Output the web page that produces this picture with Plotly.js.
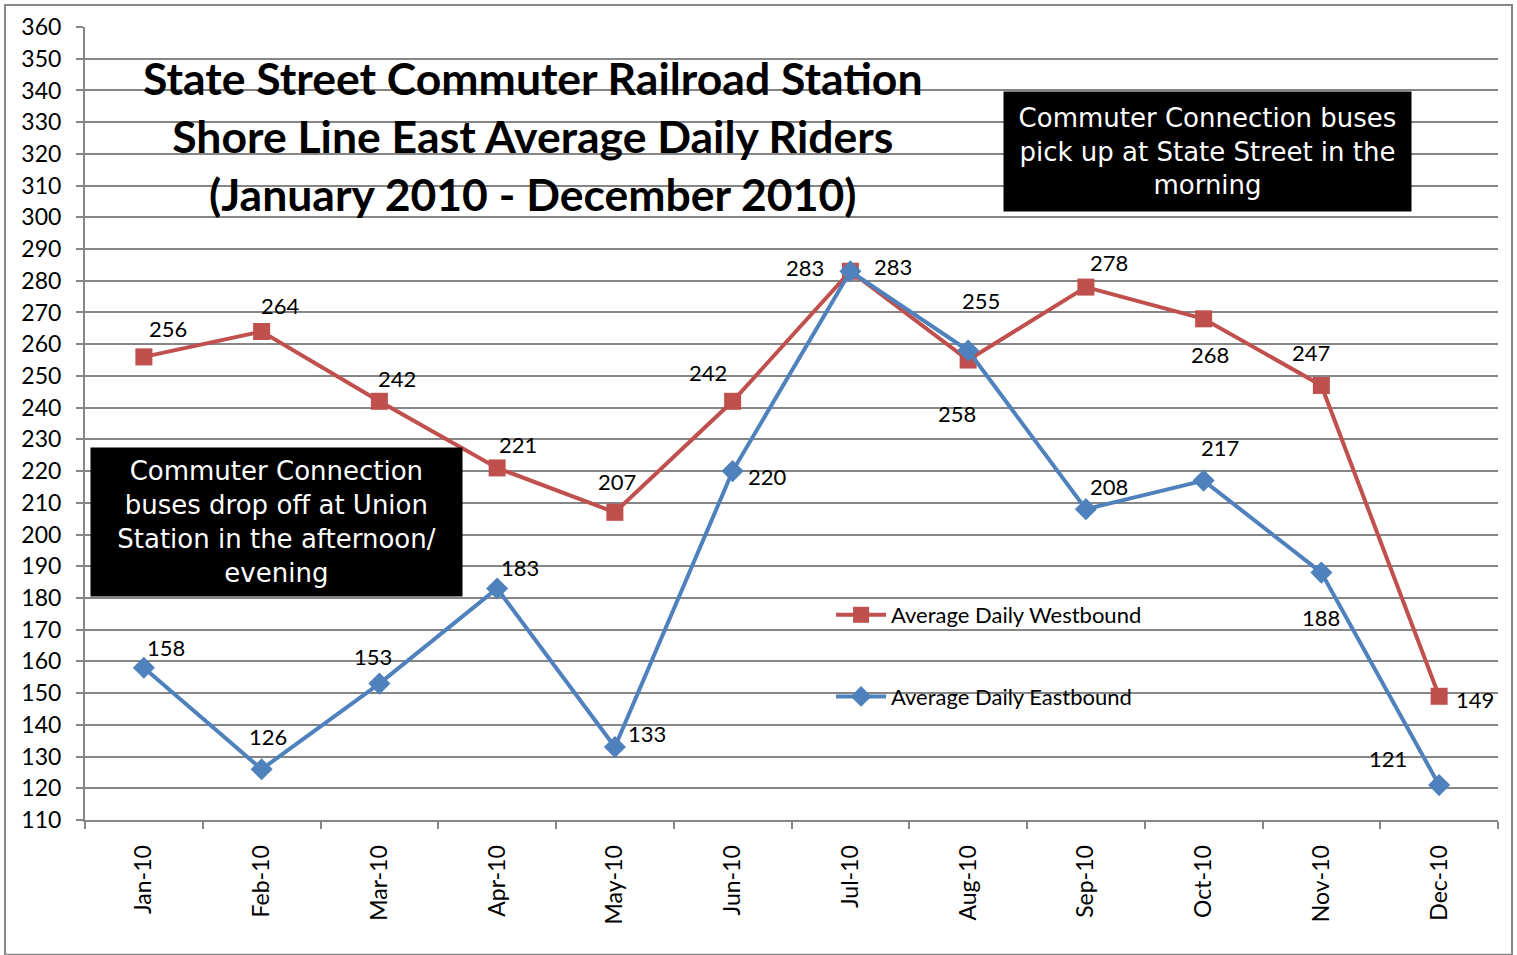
<!DOCTYPE html>
<html><head><meta charset="utf-8">
<script src="https://cdn.plot.ly/plotly-3.0.1.min.js"></script>
<style>body{margin:0;background:#fff}#c{width:1517px;height:955px}</style>
</head><body><div id="c"></div>
<script>
const months = ["Jan-10","Feb-10","Mar-10","Apr-10","May-10","Jun-10","Jul-10","Aug-10","Sep-10","Oct-10","Nov-10","Dec-10"];
const westbound = [256,264,242,221,207,242,283,255,278,268,247,149];
const eastbound = [158,126,153,183,133,220,283,258,208,217,188,121];
// label offsets in px (style only): [dx, dy] with dy positive = up
const westShift = [[24,28],[19,26],[18,23],[21,23],[2,31],[-25,29],[-45,4],[13,60],[23,25],[6,-36],[-10,33],[36,-3]];
const eastShift = [[22,20],[6,33],[-6,27],[23,21],[32,14],[35,-5],[43,5],[-11,-63],[23,23],[16,33],[0,-45],[-51,27]];
const titleLines = ["State Street Commuter Railroad Station","Shore Line East Average Daily Riders","(January 2010 - December 2010)"];
const noteRight = "Commuter Connection buses<br>pick up at State Street in the<br>morning";
const noteLeft = "Commuter Connection<br>buses drop off at Union<br>Station in the afternoon/<br>evening";

const baseFont = "Lato, 'Open Sans', sans-serif";
const lblFont = {family:baseFont, size:22, color:"#000"};
const traces = [
  {x:months, y:westbound, name:"Average Daily Westbound", type:"scatter", mode:"lines+markers", legendgroup:"w",
   line:{color:"#C0504D", width:4}, marker:{symbol:"square", size:17, color:"#C0504D"}, cliponaxis:false},
  {x:months, y:eastbound, name:"Average Daily Eastbound", type:"scatter", mode:"lines+markers", legendgroup:"e",
   line:{color:"#4F81BD", width:4}, marker:{symbol:"diamond", size:17, color:"#4F81BD"}, cliponaxis:false}
];
const gridC = "#868686";
const annotations = [
  {text:titleLines.join("<br>"), xref:"paper", yref:"paper", x:0.317, y:0.972, xanchor:"center", yanchor:"top",
   showarrow:false, font:{family:"Lato, sans-serif", size:44.5, color:"#000", weight:"bold"}, align:"center"},
  {text:noteRight, xref:"paper", yref:"paper", x:0.7941, y:0.919, xanchor:"center", yanchor:"top", showarrow:false,
   bgcolor:"#000", font:{family:"DejaVu Sans, Verdana, sans-serif", size:26, color:"#fff"}, align:"center",
   width:405, height:117, borderpad:1},
  {text:noteLeft, xref:"paper", yref:"paper", x:0.1355, y:0.4703, xanchor:"center", yanchor:"top", showarrow:false,
   bgcolor:"#000", font:{family:"DejaVu Sans, Verdana, sans-serif", size:26, color:"#fff"}, align:"center",
   width:369, height:146, borderpad:1}
];
months.forEach((m,i)=>{
  annotations.push({x:m, y:westbound[i], xref:"x", yref:"y", text:String(westbound[i]), showarrow:false,
    xanchor:"center", yanchor:"middle", xshift:westShift[i][0], yshift:westShift[i][1], font:lblFont});
  annotations.push({x:m, y:eastbound[i], xref:"x", yref:"y", text:String(eastbound[i]), showarrow:false,
    xanchor:"center", yanchor:"middle", xshift:eastShift[i][0], yshift:eastShift[i][1], font:lblFont});
});
const layout = {
  width:1517, height:955,
  margin:{l:85, r:19, t:27, b:135},
  paper_bgcolor:"#fff", plot_bgcolor:"#fff",
  showlegend:true,
  legend:{x:0.528, y:0.285, xanchor:"left", yanchor:"top", bgcolor:"rgba(0,0,0,0)",
    font:{family:baseFont, size:22, color:"#000"}, tracegroupgap:50, itemwidth:50},
  xaxis:{type:"category", range:[-0.5,11.5], tickson:"boundaries", ticks:"outside", ticklen:7, tickcolor:gridC, tickwidth:2,
    showline:true, linecolor:gridC, linewidth:2, showgrid:false, tickangle:-90, ticklabelstandoff:14,
    tickfont:{family:baseFont, size:23, color:"#000"}, fixedrange:true},
  yaxis:{range:[110,360], dtick:10, tick0:110, ticks:"outside", ticklen:7, tickcolor:gridC, tickwidth:2,
    showline:true, linecolor:gridC, linewidth:2, gridcolor:gridC, gridwidth:2, zeroline:false, ticklabelstandoff:10,
    tickfont:{family:baseFont, size:23, color:"#000"}, fixedrange:true},
  annotations:annotations,
  shapes:[{type:"rect", xref:"paper", yref:"paper", x0:-0.0566, x1:1.0099, y0:-0.17, y1:1.0277,
    line:{color:gridC, width:2}, fillcolor:"rgba(0,0,0,0)", layer:"below"}]
};
Plotly.newPlot("c", traces, layout, {displayModeBar:false, staticPlot:true});
</script></body></html>
